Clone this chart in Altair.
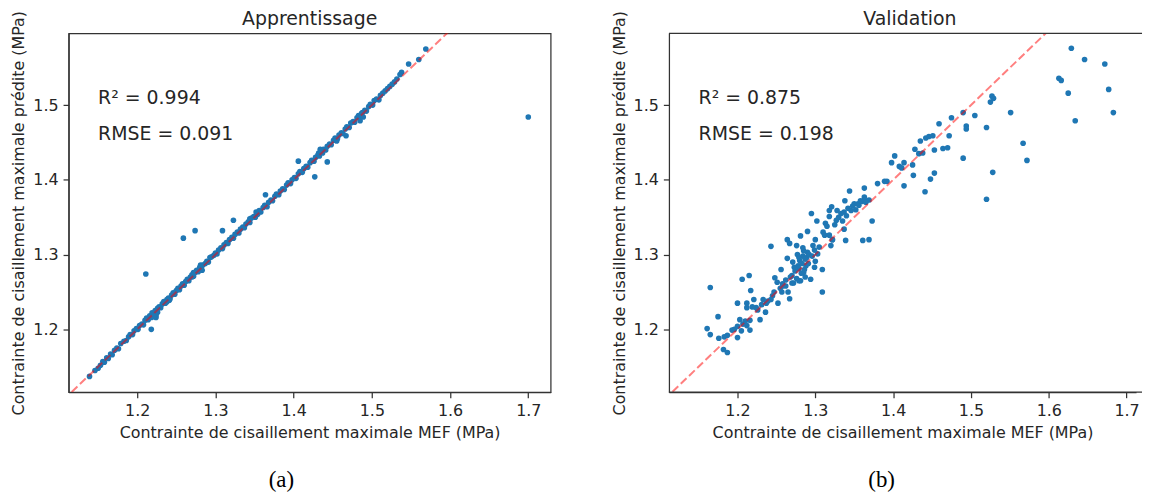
import altair as alt
import pandas as pd

# ---------------- data ----------------
train_x = [
    1.139, 1.146, 1.150, 1.153, 1.156, 1.158, 1.161, 1.163, 1.166, 1.168,
    1.171, 1.174, 1.176, 1.179, 1.183, 1.186, 1.189, 1.191, 1.194, 1.196,
    1.199, 1.201, 1.203, 1.206, 1.208, 1.210, 1.212, 1.214, 1.216, 1.218,
    1.219, 1.221, 1.223, 1.224, 1.226, 1.228, 1.230, 1.232, 1.234, 1.236,
    1.238, 1.240, 1.242, 1.244, 1.246, 1.248, 1.250, 1.252, 1.254, 1.256,
    1.258, 1.260, 1.262, 1.264, 1.266, 1.268, 1.270, 1.272, 1.274, 1.276,
    1.278, 1.280, 1.282, 1.284, 1.287, 1.289, 1.291, 1.293, 1.295, 1.298,
    1.300, 1.302, 1.304, 1.307, 1.309, 1.311, 1.314, 1.316, 1.318, 1.321,
    1.323, 1.325, 1.328, 1.330, 1.332, 1.335, 1.337, 1.339, 1.342, 1.344,
    1.346, 1.349, 1.351, 1.353, 1.356, 1.358, 1.361, 1.363, 1.366, 1.368,
    1.371, 1.373, 1.376, 1.378, 1.381, 1.383, 1.386, 1.388, 1.391, 1.393,
    1.396, 1.398, 1.401, 1.403, 1.406, 1.408, 1.411, 1.413, 1.416, 1.418,
    1.421, 1.423, 1.426, 1.428, 1.431, 1.433, 1.436, 1.438, 1.441, 1.443,
    1.446, 1.448, 1.451, 1.453, 1.456, 1.458, 1.461, 1.463, 1.466, 1.468,
    1.471, 1.473, 1.476, 1.478, 1.481, 1.483, 1.486, 1.488, 1.491, 1.493,
    1.496, 1.498, 1.501, 1.503, 1.506, 1.509, 1.511, 1.514, 1.517, 1.520,
    1.523, 1.526, 1.529, 1.532, 1.536, 1.538, 1.547, 1.560, 1.569, 1.700,
    1.211, 1.259, 1.274, 1.309, 1.218, 1.323, 1.364, 1.427, 1.443, 1.406,
    1.467, 1.485, 1.224, 1.226, 1.221, 1.281, 1.283, 1.352, 1.354, 1.432,
    1.434, 1.487, 1.489, 1.437, 1.344, 1.270, 1.272, 1.238, 1.241, 1.455,
]
train_y = [
    1.137, 1.145, 1.148, 1.152, 1.157, 1.156, 1.162, 1.161, 1.167, 1.166,
    1.172, 1.175, 1.174, 1.181, 1.184, 1.185, 1.190, 1.193, 1.193, 1.198,
    1.201, 1.200, 1.205, 1.207, 1.206, 1.212, 1.215, 1.213, 1.218, 1.216,
    1.222, 1.220, 1.225, 1.219, 1.228, 1.230, 1.229, 1.234, 1.237, 1.235,
    1.240, 1.242, 1.241, 1.246, 1.249, 1.247, 1.252, 1.255, 1.253, 1.258,
    1.261, 1.259, 1.264, 1.267, 1.265, 1.270, 1.273, 1.271, 1.276, 1.279,
    1.277, 1.283, 1.284, 1.286, 1.288, 1.291, 1.290, 1.296, 1.297, 1.299,
    1.302, 1.301, 1.306, 1.309, 1.308, 1.313, 1.316, 1.315, 1.320, 1.323,
    1.322, 1.327, 1.330, 1.329, 1.334, 1.337, 1.336, 1.341, 1.344, 1.343,
    1.349, 1.351, 1.350, 1.356, 1.359, 1.357, 1.363, 1.366, 1.364, 1.370,
    1.373, 1.372, 1.378, 1.381, 1.380, 1.385, 1.388, 1.387, 1.393, 1.396,
    1.395, 1.400, 1.403, 1.402, 1.408, 1.411, 1.410, 1.415, 1.418, 1.417,
    1.423, 1.426, 1.425, 1.430, 1.433, 1.432, 1.438, 1.441, 1.440, 1.445,
    1.448, 1.447, 1.453, 1.456, 1.455, 1.460, 1.463, 1.462, 1.468, 1.471,
    1.470, 1.476, 1.478, 1.477, 1.483, 1.486, 1.485, 1.490, 1.493, 1.492,
    1.498, 1.501, 1.500, 1.506, 1.508, 1.507, 1.513, 1.516, 1.519, 1.522,
    1.525, 1.528, 1.531, 1.535, 1.541, 1.544, 1.555, 1.561, 1.575, 1.484,
    1.274, 1.322, 1.332, 1.332, 1.200, 1.346, 1.380, 1.404, 1.424, 1.425,
    1.459, 1.479, 1.216, 1.223, 1.217, 1.286, 1.279, 1.357, 1.354, 1.436,
    1.441, 1.489, 1.484, 1.436, 1.348, 1.270, 1.276, 1.237, 1.239, 1.452,
]

val_x = [
    1.161, 1.165, 1.165, 1.176, 1.175, 1.182, 1.187, 1.187, 1.200, 1.196,
    1.200, 1.203, 1.200, 1.206, 1.210, 1.212, 1.212, 1.215, 1.216, 1.216,
    1.217, 1.221, 1.224, 1.229, 1.233, 1.236, 1.237, 1.243, 1.247, 1.248,
    1.251, 1.252, 1.256, 1.257, 1.258, 1.264, 1.265, 1.267, 1.270, 1.271,
    1.276, 1.279, 1.281, 1.285, 1.288, 1.290, 1.299, 1.300, 1.309, 1.309,
    1.294, 1.299, 1.278, 1.280, 1.282, 1.284, 1.286, 1.283, 1.277, 1.285,
    1.289, 1.292, 1.274, 1.272, 1.268, 1.262, 1.279, 1.287, 1.291, 1.296,
    1.303, 1.297, 1.300, 1.255, 1.245, 1.239, 1.231, 1.226, 1.219, 1.212,
    1.207, 1.205, 1.193, 1.183, 1.243, 1.264, 1.267, 1.276, 1.281, 1.290,
    1.295, 1.302, 1.305, 1.312, 1.313, 1.318, 1.318, 1.318, 1.320, 1.321,
    1.322, 1.322, 1.327, 1.328, 1.333, 1.337, 1.337, 1.338, 1.339, 1.344,
    1.346, 1.350, 1.355, 1.360, 1.361, 1.363, 1.363, 1.363, 1.369, 1.369,
    1.373, 1.380, 1.389, 1.392, 1.398, 1.402, 1.408, 1.411, 1.414, 1.414,
    1.425, 1.426, 1.428, 1.433, 1.435, 1.438, 1.441, 1.442, 1.446, 1.448,
    1.451, 1.453, 1.453, 1.459, 1.464, 1.470, 1.472, 1.475, 1.490, 1.490,
    1.494, 1.494, 1.505, 1.520, 1.520, 1.525, 1.527, 1.529, 1.528, 1.551,
    1.567, 1.572, 1.613, 1.616, 1.625, 1.629, 1.634, 1.646, 1.672, 1.677,
    1.683, 1.310, 1.315, 1.325, 1.330, 1.335, 1.340, 1.342, 1.348, 1.352,
    1.356, 1.358, 1.365, 1.284, 1.287, 1.279, 1.273, 1.270, 1.262, 1.258,
]
val_y = [
    1.201, 1.193, 1.256, 1.188, 1.217, 1.173, 1.169, 1.192, 1.189, 1.200,
    1.204, 1.213, 1.235, 1.267, 1.211, 1.235, 1.229, 1.272, 1.212, 1.199,
    1.252, 1.240, 1.229, 1.213, 1.240, 1.223, 1.235, 1.240, 1.250, 1.269,
    1.263, 1.235, 1.280, 1.250, 1.261, 1.295, 1.250, 1.241, 1.272, 1.290,
    1.268, 1.281, 1.265, 1.276, 1.285, 1.303, 1.283, 1.291, 1.250, 1.280,
    1.267, 1.306, 1.285, 1.292, 1.275, 1.298, 1.280, 1.288, 1.300, 1.305,
    1.296, 1.300, 1.278, 1.262, 1.270, 1.258, 1.265, 1.270, 1.288, 1.298,
    1.301, 1.312, 1.320, 1.255, 1.245, 1.238, 1.233, 1.226, 1.230, 1.205,
    1.207, 1.198, 1.199, 1.190, 1.311, 1.320, 1.315, 1.312, 1.325, 1.331,
    1.355, 1.345, 1.310, 1.326, 1.342, 1.359, 1.351, 1.326, 1.312, 1.364,
    1.320, 1.320, 1.346, 1.359, 1.355, 1.357, 1.334, 1.372, 1.319, 1.385,
    1.359, 1.368, 1.368, 1.371, 1.319, 1.389, 1.377, 1.373, 1.373, 1.320,
    1.345, 1.395, 1.398, 1.398, 1.423, 1.432, 1.418, 1.416, 1.423, 1.392,
    1.420, 1.406, 1.441, 1.435, 1.452, 1.436, 1.384, 1.456, 1.458, 1.401,
    1.459, 1.440, 1.409, 1.475, 1.442, 1.443, 1.459, 1.483, 1.490, 1.429,
    1.472, 1.468, 1.486, 1.470, 1.374, 1.504, 1.512, 1.509, 1.410, 1.490,
    1.449, 1.426, 1.536, 1.533, 1.516, 1.576, 1.479, 1.561, 1.555, 1.521,
    1.490, 1.330, 1.338, 1.340, 1.350, 1.345, 1.352, 1.362, 1.365, 1.360,
    1.366, 1.372, 1.370, 1.309, 1.294, 1.296, 1.283, 1.262, 1.266, 1.258,
]

panel_titles = ["Apprentissage", "Validation"]
captions = ["(a)", "(b)"]
r2_values = ["0.994", "0.875"]
rmse_values = ["0.091", "0.198"]
x_ticks = [1.2, 1.3, 1.4, 1.5, 1.6, 1.7]
y_ticks = [1.2, 1.3, 1.4, 1.5]
diag_line = [1.0, 1.8]
ann_x = [1.15, 1.15]
ann_y = [1.509, 1.461]
x_label = "Contrainte de cisaillement maximale MEF (MPa)"
y_label = "Contrainte de cisaillement maximale prédite (MPa)"

Y_DOMAIN = [1.116, 1.596]
FONT = "DejaVu Sans"
TXT = "#262626"
FRAME = "#333333"
PLOT_H = 361


def panel(xs, ys, title, r2, rmse, caption, width, xdom, frame_to=None):
    xsc = alt.Scale(domain=xdom, nice=False, zero=False)
    ysc = alt.Scale(domain=Y_DOMAIN, nice=False, zero=False)
    xax = alt.Axis(values=x_ticks, format=".1f", title=x_label)
    yax = alt.Axis(values=y_ticks, format=".1f", title=y_label)
    pts = alt.Chart(pd.DataFrame({"x": xs, "y": ys})).mark_circle(
        size=32, color="#1f77b4", opacity=1, clip=True
    ).encode(
        x=alt.X("x:Q", scale=xsc, axis=xax),
        y=alt.Y("y:Q", scale=ysc, axis=yax),
    )
    diag = alt.Chart(pd.DataFrame({"x": diag_line, "y": diag_line})).mark_line(
        color="red", opacity=0.5, strokeDash=[8, 3.5], strokeWidth=2, clip=True
    ).encode(
        x=alt.X("x:Q", scale=xsc, axis=xax),
        y=alt.Y("y:Q", scale=ysc, axis=yax),
    )
    ann = alt.Chart(pd.DataFrame({
        "x": ann_x, "y": ann_y, "t": [f"R² = {r2}", f"RMSE = {rmse}"]
    })).mark_text(align="left", baseline="middle", font=FONT, fontSize=19, color=TXT).encode(
        x=alt.X("x:Q", scale=xsc, axis=xax),
        y=alt.Y("y:Q", scale=ysc, axis=yax),
        text="t:N",
    )
    label_df = pd.DataFrame({"t": [title], "c": [caption]})
    ttl = alt.Chart(label_df).mark_text(
        font=FONT, fontSize=19, color=TXT, baseline="alphabetic", align="center"
    ).encode(text="t:N", x=alt.value(242.5), y=alt.value(-8))
    cap = alt.Chart(label_df).mark_text(
        font="Liberation Serif", fontSize=23, color="black", baseline="middle"
    ).encode(text="c:N", x=alt.value(214), y=alt.value(449))
    layers = [pts, diag, ann, ttl, cap]
    if frame_to is not None:
        # frame lines that run on to the right edge of the figure
        frame_df = pd.DataFrame({"t": [0]})
        top = alt.Chart(frame_df).mark_rule(color=FRAME, strokeWidth=1.25).encode(
            x=alt.value(0), x2=alt.value(frame_to), y=alt.value(0))
        bottom = alt.Chart(frame_df).mark_rule(color=FRAME, strokeWidth=1.25).encode(
            x=alt.value(0), x2=alt.value(frame_to), y=alt.value(PLOT_H))
        layers += [top, bottom]
    ch = alt.layer(*layers).properties(width=width, height=PLOT_H)
    if frame_to is not None:
        ch = ch.properties(view=alt.ViewBackground(stroke="transparent"))
    return ch


pa = panel(train_x, train_y, panel_titles[0], r2_values[0], rmse_values[0], captions[0],
           485, [1.1123, 1.7286])
pb = panel(val_x, val_y, panel_titles[1], r2_values[1], rmse_values[1], captions[1],
           470, [1.1119, 1.1119 + 470 / 783], frame_to=476)

chart = alt.hconcat(pa, pb, spacing=119, bounds="flush").properties(
    padding={"left": 2, "top": 0, "right": 0, "bottom": 0},
    background="white",
).configure_axis(
    labelFont=FONT, labelFontSize=16, titleFont=FONT, titleFontSize=16,
    titleFontWeight="normal", labelColor=TXT, titleColor=TXT,
    domainColor=FRAME, tickColor=FRAME, tickSize=5.6, tickWidth=1.25,
    domainWidth=1.25, grid=False, labelPadding=5, titlePadding=6,
).configure_view(stroke=FRAME, strokeWidth=1.25)

chart.save("out.html", embed_options={"renderer": "svg", "actions": False})
